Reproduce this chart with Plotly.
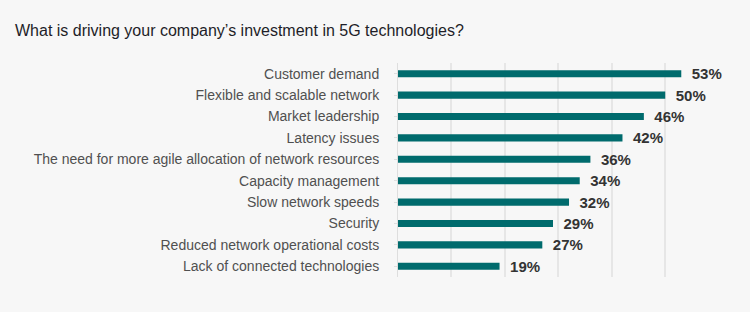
import plotly.graph_objects as go

# Survey drivers and share of respondents (%)
drivers = [
    "Customer demand",
    "Flexible and scalable network",
    "Market leadership",
    "Latency issues",
    "The need for more agile allocation of network resources",
    "Capacity management",
    "Slow network speeds",
    "Security",
    "Reduced network operational costs",
    "Lack of connected technologies",
]
shares = [53, 50, 46, 42, 36, 34, 32, 29, 27, 19]

W, H = 750, 327
M_L, M_R, M_T, M_B = 398, 42, 63, 50
plot_h = H - M_T - M_B

fig = go.Figure(
    go.Bar(
        x=shares,
        y=drivers,
        orientation="h",
        width=0.33,
        marker=dict(color="#006b6d", line=dict(width=0)),
        text=[f"\u2002<b>{v}%</b>" for v in shares],
        textposition="outside",
        constraintext="none",
        textfont=dict(family="Liberation Sans, Arial, sans-serif", size=15, color="#333333"),
        cliponaxis=False,
        hoverinfo="skip",
    )
)

# white strip along the bottom edge
strip_top = (H - M_B - 312) / plot_h
fig.add_shape(
    type="rect", xref="paper", yref="paper",
    x0=-2, x1=2, y0=-0.5, y1=strip_top,
    fillcolor="#ffffff", line=dict(width=0), layer="below",
)

fig.update_layout(
    width=W,
    height=H,
    margin=dict(l=M_L, r=M_R, t=M_T, b=M_B),
    paper_bgcolor="#f7f7f7",
    plot_bgcolor="#f7f7f7",
    showlegend=False,
    bargap=0.67,
    font=dict(family="Liberation Sans, Arial, sans-serif"),
    title=dict(
        text="What is driving your company\u2019s investment in 5G technologies?",
        x=15 / W,
        xanchor="left",
        y=1 - 30 / H,
        yanchor="middle",
        font=dict(family="Liberation Sans, Arial, sans-serif", size=16, color="#1e1e28"),
    ),
    xaxis=dict(
        range=[0, 58],
        dtick=10,
        showticklabels=False,
        showgrid=True,
        gridcolor="#e6e6e6",
        gridwidth=1.5,
        zeroline=False,
        showline=False,
        fixedrange=True,
    ),
    yaxis=dict(
        autorange="reversed",
        showline=True,
        linecolor="#dedede",
        linewidth=1,
        ticks="outside",
        ticklen=3,
        tickcolor="#dedede",
        ticklabelstandoff=12,
        tickfont=dict(family="Liberation Sans, Arial, sans-serif", size=14, color="#505050"),
        showgrid=False,
        fixedrange=True,
    ),
)

fig.write_html("out.html")
